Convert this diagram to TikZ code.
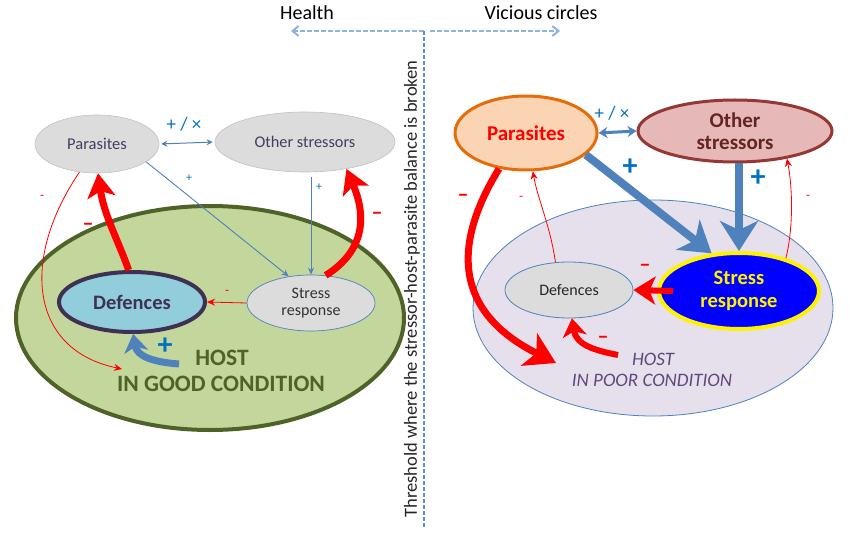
\documentclass[tikz,border=0pt]{standalone}
\usepackage{fontspec}
\setmainfont{Carlito}
\usetikzlibrary{arrows.meta,shapes.geometric,calc}
\definecolor{lgray}{HTML}{DCDCDC}
\definecolor{ngray}{HTML}{A6A6A6}
\definecolor{txtgray}{HTML}{3F3F5F}
\definecolor{hgreen}{HTML}{C3D69B}
\definecolor{dgreen}{HTML}{4F6228}
\definecolor{defblue}{HTML}{92CDDC}
\definecolor{dpurple}{HTML}{3F3151}
\definecolor{abl}{HTML}{4F81BD}
\definecolor{pblue}{HTML}{0070C0}
\definecolor{peach}{HTML}{FBD4B4}
\definecolor{orng}{HTML}{E46C0A}
\definecolor{rose}{HTML}{E6B9B8}
\definecolor{dred}{HTML}{953735}
\definecolor{dbrown}{HTML}{632523}
\definecolor{lav}{HTML}{E5E0EC}
\definecolor{ipurple}{HTML}{5F497A}
\definecolor{dashbl}{HTML}{8DB3E2}
\definecolor{vline}{HTML}{5B8ED6}
\tikzset{
  ell/.style={ellipse, inner sep=0pt, align=center},
  fs/.style={font=\fontsize{#1}{#1}\selectfont},
  fsb/.style={font=\bfseries\fontsize{#1}{#1}\selectfont},
  fsi/.style={font=\itshape\fontsize{#1}{#1}\selectfont},
  thinblue/.style={draw=abl, line width=0.9pt, -{Stealth[length=7pt,width=6pt]}},
  thinred/.style={draw=red, line width=0.8pt, -{Stealth[length=8pt,width=7pt]}},
  fatred/.style={draw=red, line width=7pt, -{Stealth[length=24pt,width=28pt,inset=6pt]}},
  fatblue/.style={draw=abl, line width=8pt, -{Stealth[length=30pt,width=38pt,inset=9pt]}},
  lbl/.style={inner sep=0pt},
}
\begin{document}
\begin{tikzpicture}[x=1pt,y=-1pt]
\useasboundingbox (0,0) rectangle (850,537);
% ---------------- header ----------------
\coordinate (junc) at (424,31);
\coordinate (hl) at (291,31);
\coordinate (vc) at (560,31);
\coordinate (vbot) at (424,528);
\node[lbl, fs=20] (health) at (307,13) {Health};
\node[lbl, fs=20] (vicious) at (541,13) {Vicious circles};
\draw[dashbl, line width=2pt, dash pattern=on 5pt off 2pt, -{Straight Barb[length=6pt,width=10pt]}] (junc) -- (hl);
\draw[dashbl, line width=2pt, dash pattern=on 5pt off 2pt, -{Straight Barb[length=6pt,width=10pt]}] ($(junc)+(6,0)$) -- (vc);
\draw[vline, line width=1.6pt, dash pattern=on 4pt off 2pt] (junc) -- (vbot);
\node[lbl, fs=18.5, rotate=90, text=black!85] (thr) at (412,289) {Threshold where the stressor-host-parasite balance is broken};
% ---------------- left side ----------------
\node[ell, fill=hgreen, draw=dgreen, line width=4pt, minimum width=388pt, minimum height=224pt] (LH) at (210,318) {};
\node[ell, fill=lgray, draw=ngray!70, line width=0.6pt, minimum width=124pt, minimum height=58pt, fs=16.5, text=txtgray] (LP) at (97,144) {Parasites};
\node[ell, fill=lgray, draw=ngray!70, line width=0.6pt, minimum width=180pt, minimum height=60pt, fs=16.3, text=txtgray] (LO) at (305,142) {Other stressors};
\node[ell, fill=defblue, draw=dpurple, line width=4pt, minimum width=146pt, minimum height=60pt, fsb=20.5, text=dpurple] (LD) at (132,302) {Defences};
\node[ell, fill=lgray, draw=abl, line width=0.7pt, minimum width=128pt, minimum height=56pt, text=black!80, font=\fontsize{16}{17.5}\selectfont] (LS) at (311,303) {Stress\\response};
\node[lbl, fsb=23.5, text=dgreen] (lhost1) at (222,358) {HOST};
\node[lbl, fsb=23.5, text=dgreen] (lhost2) at (221,384) {IN GOOD CONDITION};
\coordinate (lgtip) at (122,369);
\coordinate (lbst) at (179,364);
% connectors left
\draw[draw=abl, line width=1pt, {Stealth[length=6pt,width=6pt]}-{Stealth[length=6pt,width=6pt]}, shorten <=2pt, shorten >=2pt] (LP.east) -- (LO.west);
\node[lbl, fs=19, text=pblue] (lpx) at (184,124) {+ / ×};
\draw[thinblue] (LP.-20) -- (LS.130);
\node[lbl, fs=12, text=pblue] (lplus1) at (189,178) {+};
\draw[thinblue, shorten <=5pt] (LS.north |- LO.south) -- (LS.north);
\node[lbl, fs=12, text=pblue] (lplus2) at (319,187) {+};
\draw[fatred] (LD.96) .. controls (118,240) and (104,215) .. (LP.-88);
\node[lbl, fsb=22, text=red] (lm1) at (88,227) {–};
\draw[fatred] (LS.62) .. controls (366,250) and (366,215) .. (LO.-33);
\node[lbl, fsb=22, text=red] (lm2) at (377,216) {–};
\draw[thinred] (LS.west) -- (LD.east);
\node[lbl, fs=13, text=red] (lm3) at (227,292) {-};
\draw[thinred] (LP.-122) .. controls (20,260) and (30,350) .. (lgtip);
\node[lbl, fs=13, text=red] (lm4) at (42,197) {-};
\draw[draw=abl, line width=7pt, -{Stealth[length=18pt,width=24pt,inset=5pt]}] (lbst) .. controls (152,362) and (137,356) .. (LD.-88);
\node[lbl, fsb=30, text=pblue] (lplus3) at (165,346) {+};
% ---------------- right side ----------------
\node[ell, fill=lav, draw=abl, line width=0.8pt, minimum width=360pt, minimum height=216pt] (RH) at (653,308) {};
\node[ell, fill=peach, draw=orng, line width=3pt, minimum width=142pt, minimum height=74pt, fsb=21, text=red] (RP) at (526,133) {Parasites};
\node[ell, fill=rose, draw=dred, line width=3pt, minimum width=194pt, minimum height=62pt, text=dbrown, font=\bfseries\fontsize{21}{22}\selectfont] (RO) at (735,131) {Other\\stressors};
\node[ell, fill=lgray, draw=abl, line width=0.8pt, minimum width=128pt, minimum height=56pt, fs=16, text=black!85] (RD) at (569,290) {Defences};
\node[ell, fill=blue, draw=yellow, line width=4pt, minimum width=160pt, minimum height=76pt, text=yellow, font=\bfseries\fontsize{20.5}{23}\selectfont] (RS) at (739,291) {Stress\\response};
\node[lbl, fsi=19, text=ipurple] (rhost1) at (653,359) {HOST};
\node[lbl, fsi=19, text=ipurple] (rhost2) at (652,380) {IN POOR CONDITION};
\coordinate (rptip) at (556,363);
\coordinate (rrst) at (618,355);
% connectors right
\draw[draw=abl, line width=3pt, {Stealth[length=9pt,width=11pt]}-{Stealth[length=9pt,width=11pt]}] (RP.east) -- (RO.west);
\node[lbl, fs=19, text=pblue] (rpx) at (612,113) {+ / ×};
\draw[fatblue] (RP.-20) -- (RS.126);
\node[lbl, fsb=30, text=pblue] (rplus1) at (630,167) {+};
\draw[fatblue] (RS.north |- RO.south) -- (RS.north);
\node[lbl, fsb=30, text=pblue] (rplus2) at (758,178) {+};
\draw[draw=red, line width=6pt, -{Stealth[length=22pt,width=28pt,inset=6pt]}] ($(RS.west)+(16,0)$) -- (RD.east);
\node[lbl, fsb=22, text=red] (rm1) at (645,268) {–};
\draw[fatred, -{Stealth[length=30pt,width=36pt,inset=8pt]}] (RP.-127) .. controls (455,240) and (450,310) .. (rptip);
\node[lbl, fsb=22, text=red] (rm2) at (463,198) {–};
\draw[thinred] (RD.116) .. controls (550,225) and (538,200) .. (RP.-80);
\node[lbl, fs=13, text=red] (rm3) at (521,198) {-};
\draw[thinred] (RS.35) .. controls (793,230) and (793,190) .. (RO.-28);
\node[lbl, fs=13, text=red] (rm4) at (808,197) {-};
\draw[draw=red, line width=6pt, -{Stealth[length=18pt,width=24pt,inset=5pt]}] (rrst) .. controls (592,350) and (576,344) .. (RD.-84);
\node[lbl, fsb=22, text=red] (rm5) at (603,340) {–};
\end{tikzpicture}
\end{document}
